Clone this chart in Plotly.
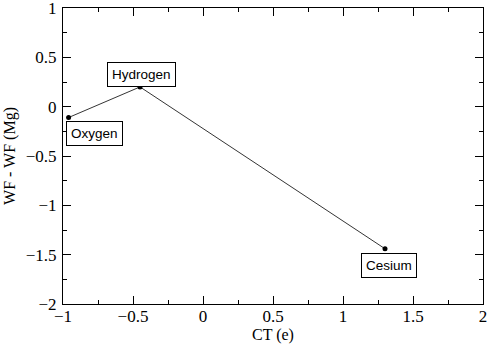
import plotly.graph_objects as go

# Charge transfer vs. work-function change for adsorbed species
species = ["Oxygen", "Hydrogen", "Cesium"]
charge_transfer = [-0.96, -0.45, 1.30]
wf_shift = [-0.11, 0.20, -1.44]

# label placement relative to each point (anchor, pixel shift)
label_xanchor = ["left", "center", "center"]
label_yanchor = ["top", "bottom", "top"]
label_xshift = [-3, 1, 4]
label_yshift = [-3, 0, -4]

SERIF = "Liberation Serif"
SANS = "Liberation Sans"

fig = go.Figure()
fig.add_trace(go.Scatter(
    x=charge_transfer, y=wf_shift,
    mode="lines+markers",
    line=dict(color="black", width=0.8),
    marker=dict(color="black", size=5),
    showlegend=False,
))

for name, xv, yv, xa, ya, xs, ys in zip(species, charge_transfer, wf_shift,
                                         label_xanchor, label_yanchor,
                                         label_xshift, label_yshift):
    fig.add_annotation(
        x=xv, y=yv, text=name, showarrow=False,
        xanchor=xa, yanchor=ya, xshift=xs, yshift=ys,
        font=dict(family=SANS, size=13.5, color="black"),
        bgcolor="white", bordercolor="black", borderwidth=1, borderpad=4,
    )

axis_common = dict(
    showgrid=False, zeroline=False, automargin=False,
    showline=True, linecolor="black", linewidth=1, mirror="ticks",
    ticks="inside", ticklen=8, tickcolor="black", tickwidth=1,
    ticklabeloverflow="allow",
    tickfont=dict(family=SERIF, size=17, color="black"),
    minor=dict(ticks="inside", ticklen=4, tickcolor="black", tickwidth=1, dtick=0.25),
)

fig.update_xaxes(range=[-1, 2], dtick=0.5, tick0=0, ticklabelstandoff=-3,
                 title=dict(text="CT (e)", standoff=2,
                            font=dict(family=SERIF, size=16, color="black")),
                 **axis_common)
fig.update_yaxes(range=[-2, 1], dtick=0.5, tick0=0, ticklabelstandoff=2,
                 title=dict(text="WF - WF (Mg)", standoff=6,
                            font=dict(family=SERIF, size=16, color="black")),
                 **axis_common)

fig.update_layout(
    width=488, height=344,
    margin=dict(l=63, r=5, t=8, b=40),
    font=dict(family=SERIF, size=16, color="black"),
    plot_bgcolor="white", paper_bgcolor="white",
)

fig.write_html("out.html")
